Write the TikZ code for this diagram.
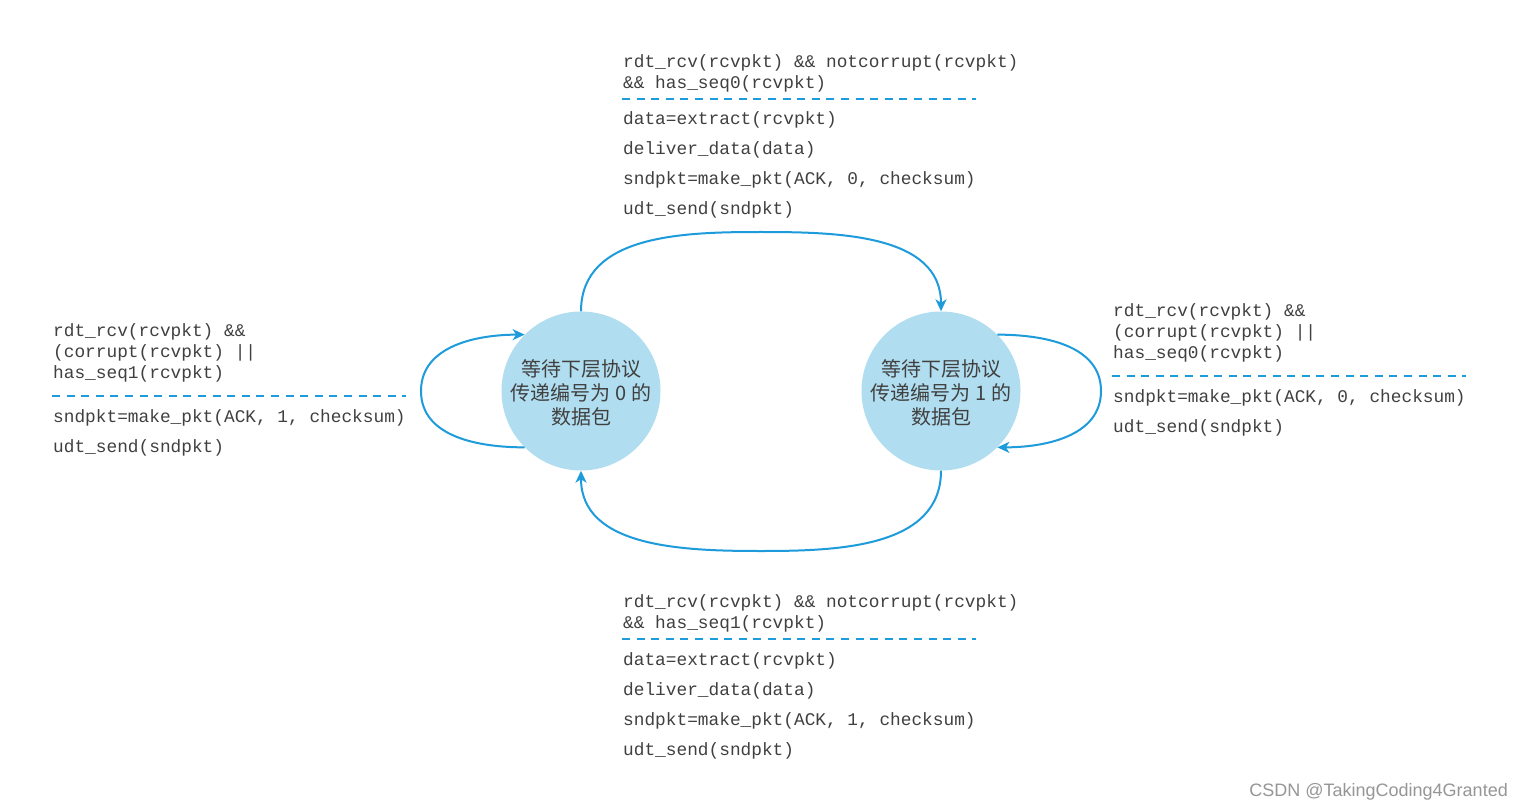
\documentclass[tikz,border=0pt]{standalone}
\usepackage{fontspec}
\setmainfont{Liberation Sans}
\setmonofont{Liberation Mono}
\newfontfamily\cjkfont{Noto Sans CJK SC}
\usetikzlibrary{arrows.meta}
\definecolor{lineblue}{RGB}{29,155,219}
\definecolor{stfill}{RGB}{176,222,240}
\definecolor{txtgray}{RGB}{64,64,64}
\definecolor{wmgray}{RGB}{150,150,150}
\begin{document}
\begin{tikzpicture}[x=1pt,y=-1pt,
  state/.style={circle, fill=stfill, minimum size=159pt, inner sep=0pt, align=center,
    font=\cjkfont\fontsize{20}{24}\selectfont, text=txtgray},
  trans/.style={draw=lineblue, line width=2pt, -{Stealth[length=12pt,width=11pt,inset=3.5pt]}},
  sepline/.style={draw=lineblue, line width=1.8pt, dash pattern=on 8pt off 6.6pt},
  cond/.style={anchor=base west, inner sep=0pt, align=left,
    font=\ttfamily\fontsize{17.8}{21}\selectfont, text=txtgray},
  act/.style={anchor=base west, inner sep=0pt, align=left,
    font=\ttfamily\fontsize{17.8}{30}\selectfont, text=txtgray},
]
\useasboundingbox[fill=white] (0,0) rectangle (1523,810);

% states
\node[state] (s0) at (581,391) {\\[-4pt]等待下层协议\\传递编号为 0 的\\数据包};
\node[state] (s1) at (941,391) {\\[-4pt]等待下层协议\\传递编号为 1 的\\数据包};

% transitions
\coordinate (topmid) at (761,232);
\coordinate (botmid) at (761,551);
\coordinate (lft) at (421,391);
\coordinate (rgt) at (1101,391);
\draw[trans] (s0.north) .. controls +(0,-77) and +(-77,0) .. (topmid)
  .. controls +(77,0) and +(0,-77) .. (s1.north);
\draw[trans] (s1.south) .. controls +(0,77) and +(77,0) .. (botmid)
  .. controls +(-77,0) and +(0,77) .. (s0.south);
\draw[trans] (s0.225) .. controls +(-46,0) and +(0,46) .. (lft)
  .. controls +(0,-46) and +(-46,0) .. (s0.135);
\draw[trans] (s1.45) .. controls +(46,0) and +(0,-46) .. (rgt)
  .. controls +(0,46) and +(46,0) .. (s1.-45);

% top label (node base = baseline of last line)
\node[cond] (c01) at (623,88.5) {rdt\_rcv(rcvpkt) \&\& notcorrupt(rcvpkt)\\\&\& has\_seq0(rcvpkt)};
\coordinate (d01a) at (622,99);
\coordinate (d01b) at (976,99);
\draw[sepline] (d01a) -- (d01b);
\node[act] (a01) at (623,214.5) {data=extract(rcvpkt)\\deliver\_data(data)\\sndpkt=make\_pkt(ACK, 0, checksum)\\udt\_send(sndpkt)};

% bottom label
\node[cond] (c10) at (623,628.5) {rdt\_rcv(rcvpkt) \&\& notcorrupt(rcvpkt)\\\&\& has\_seq1(rcvpkt)};
\coordinate (d10a) at (622,639);
\coordinate (d10b) at (976,639);
\draw[sepline] (d10a) -- (d10b);
\node[act] (a10) at (623,755.5) {data=extract(rcvpkt)\\deliver\_data(data)\\sndpkt=make\_pkt(ACK, 1, checksum)\\udt\_send(sndpkt)};

% left label
\node[cond] (c00) at (53,378.5) {rdt\_rcv(rcvpkt) \&\&\\(corrupt(rcvpkt) ||\\has\_seq1(rcvpkt)};
\coordinate (d00a) at (52,396);
\coordinate (d00b) at (406,396);
\draw[sepline] (d00a) -- (d00b);
\node[act] (a00) at (53,452.5) {sndpkt=make\_pkt(ACK, 1, checksum)\\udt\_send(sndpkt)};

% right label
\node[cond] (c11) at (1113,358.5) {rdt\_rcv(rcvpkt) \&\&\\(corrupt(rcvpkt) ||\\has\_seq0(rcvpkt)};
\coordinate (d11a) at (1112,376);
\coordinate (d11b) at (1466,376);
\draw[sepline] (d11a) -- (d11b);
\node[act] (a11) at (1113,432.5) {sndpkt=make\_pkt(ACK, 0, checksum)\\udt\_send(sndpkt)};

% watermark
\node[anchor=east, inner sep=0pt, text=wmgray, font=\fontsize{18}{20}\selectfont] (wm) at (1508,792) {CSDN @TakingCoding4Granted};
\end{tikzpicture}
\end{document}
